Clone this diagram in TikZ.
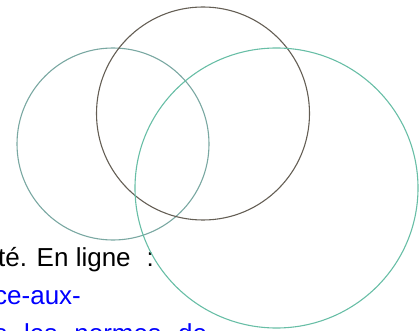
\documentclass[tikz,border=0pt]{standalone}
\usepackage{fontspec}
\setmainfont{Liberation Sans}
\definecolor{cleft}{RGB}{122,168,162}
\definecolor{cmid}{RGB}{100,94,84}
\definecolor{cright}{RGB}{104,190,166}
\definecolor{linkblue}{RGB}{0,0,255}
\tikzset{
  ring/.style={line width=1.1pt},
  txt/.style={inner sep=0pt, anchor=base west, font=\fontsize{26}{30}\selectfont},
}
\begin{document}
\begin{tikzpicture}[x=1pt,y=-1pt]
\useasboundingbox (0,0) rectangle (420,331);
\clip (0,0) rectangle (420,331);
\node[txt, text=black] (l1) at (-2,266) {té. En ligne\hspace{16pt}:};
\node[txt, text=linkblue] (l2) at (-6,304) {ce-aux-};
\node[txt, text=linkblue] (l3) at (-6,342) {s\hspace{17pt}les\hspace{17pt}normes\hspace{17pt}de};
\draw[ring, cleft] (113,144) circle[radius=96] coordinate (cl);
\draw[ring, cmid] (203,113.5) circle[radius=106.5] coordinate (cm);
\draw[ring, cright] (276.5,188) circle[x radius=141.5, y radius=140] coordinate (cr);
\end{tikzpicture}
\end{document}
